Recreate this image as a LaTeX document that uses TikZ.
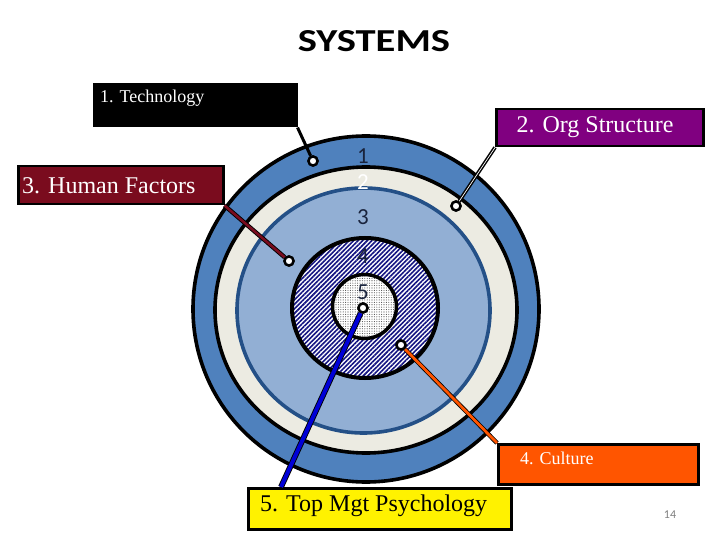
\documentclass[tikz,border=0pt]{standalone}
\usepackage{fontspec}
\setmainfont{Liberation Serif}
\newfontfamily\calib{Carlito}
\usetikzlibrary{patterns.meta}
\definecolor{ringblue}{RGB}{79,129,189}
\definecolor{ringcream}{RGB}{236,235,226}
\definecolor{ringlight}{RGB}{146,175,212}
\definecolor{ringdark}{RGB}{36,80,135}
\definecolor{hatchnavy}{RGB}{20,20,130}
\definecolor{numcol}{RGB}{25,35,60}
\definecolor{orgpurple}{RGB}{128,0,128}
\definecolor{hfred}{RGB}{122,12,30}
\definecolor{culorange}{RGB}{255,85,0}
\definecolor{mgtblue}{RGB}{0,0,215}
\definecolor{pagegray}{RGB}{128,128,128}
\tikzset{
  pinpt/.style={circle, fill=white, draw=black, line width=2.4pt, minimum size=9pt, inner sep=0pt},
  boxnode/.style={draw=black, line width=2.5pt, inner sep=0pt, anchor=north west},
  biglbl/.style={font=\fontsize{24}{28}\selectfont, inner sep=0pt},
  smalllbl/.style={font=\fontsize{18}{22}\selectfont, inner sep=0pt, text=white},
  ringnum/.style={font=\calib\fontsize{23}{27}\selectfont, text=numcol, inner sep=0pt},
  ringline/.style={line width=3.6pt},
}
\begin{document}
\begin{tikzpicture}[x=1pt,y=-1pt]
\useasboundingbox (0,0) rectangle (720,540);
\fill[white] (0,0) rectangle (720,540);

% title
\node (title) at (374,41) {\resizebox{152pt}{21pt}{\calib\bfseries SYSTEMS}};

% rings
\draw[ringline, fill=ringblue] (366,309) circle [radius=173pt];
\draw[ringline, fill=ringcream] (366,310) ellipse [x radius=151pt, y radius=143pt];
\draw[ringline, draw=ringdark, fill=ringlight] (363.5,310.5) ellipse [x radius=126.5pt, y radius=122.5pt];
\fill[white] (365,308) ellipse [x radius=73pt, y radius=70pt];
\draw[line width=4pt, pattern={Lines[angle=45,distance=3.2pt,line width=1.6pt]}, pattern color=hatchnavy] (365,308) ellipse [x radius=73pt, y radius=70pt];
\fill[white] (364.5,306.5) circle [radius=32pt];
\draw[line width=3.5pt, pattern={Dots[distance=2.4pt,radius=0.55pt]}, pattern color=black!70] (364.5,306.5) circle [radius=32pt];

% ring numbers
\node[ringnum] (n1) at (363,156) {1};
\node[ringnum, text=white] (n2) at (363,182) {2};
\node[ringnum] (n3) at (363,217) {3};
\node[ringnum] (n4) at (363,256) {4};
\node[ringnum] (n5) at (363,292) {5};

% boxes
\node[boxnode, fill=black, minimum width=202pt, minimum height=42pt] (tech) at (93,83) {};
\node[boxnode, fill=orgpurple, minimum width=207pt, minimum height=37pt] (org) at (495,108) {};
\node[boxnode, fill=hfred, minimum width=205pt, minimum height=38pt] (hf) at (17,165) {};
\node[boxnode, fill=culorange, minimum width=200pt, minimum height=40pt] (cult) at (497,443) {};
\node[boxnode, fill=yellow, minimum width=263pt, minimum height=41pt] (mgt) at (247,487) {};

% pins
\node[pinpt] (p1) at (313,161) {};
\node[pinpt] (p2) at (456,206) {};
\node[pinpt] (p3) at (289,261) {};
\node[pinpt] (p4) at (401,345) {};
\node[pinpt] (p5) at (363,308) {};
\coordinate (t5) at (281,487);

% connectors
\draw[line width=3pt] (tech.south east) -- (p1);
\draw[draw=black, line width=1.5pt, double=white, double distance=0.7pt] (org.south west) -- (p2);
\draw[draw=black, line width=0.9pt, double=hfred, double distance=2.6pt] (hf.south east) -- (p3);
\draw[draw=black, line width=0.8pt, double=culorange, double distance=2.8pt] (cult.north west) -- (p4);
\draw[draw=black, line width=0.9pt, double=mgtblue, double distance=4pt] (t5) -- (p5);

% pins on top
\node[pinpt] at (p1) {};
\node[pinpt] at (p2) {};
\node[pinpt] at (p3) {};
\node[pinpt] at (p4) {};
\node[pinpt] at (p5) {};

% labels
\node[smalllbl, anchor=west] (techlbl) at (100,98) {1. Technology};
\node[biglbl, text=white] (orglbl) at (595,127) {2. Org Structure};
\node[biglbl, text=white, anchor=west] (hflbl) at (22,186) {3. Human Factors};
\node[smalllbl, anchor=west] (cultlbl) at (520,458) {4. Culture};
\node[biglbl, text=black, anchor=west] (mgtlbl) at (260,506) {5. Top Mgt Psychology};
\node[font=\calib\fontsize{12}{14}\selectfont, text=pagegray] (page) at (670,515) {14};
\end{tikzpicture}
\end{document}
